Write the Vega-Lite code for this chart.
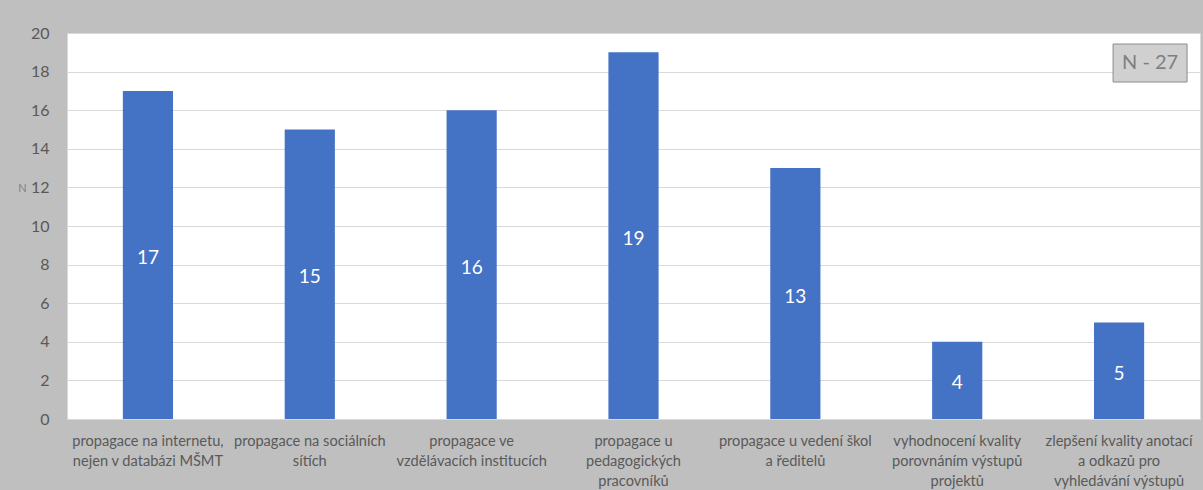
{
  "$schema": "https://vega.github.io/schema/vega-lite/v6.json",
  "autosize": {"type": "none"},
  "width": 1133,
  "height": 386,
  "padding": {"left": 67, "top": 33, "right": 3, "bottom": 71},
  "background": "#bfbfbf",
  "config": {
    "font": "Lato",
    "view": {"fill": "#ffffff", "stroke": "#d9d9d9", "strokeWidth": 1},
    "axisY": {
      "tickCount": 10,
      "labelOverlap": false,
      "titleAngle": 0,
      "titleAlign": "center",
      "titleBaseline": "middle",
      "titleX": -45,
      "titleY": 155,
      "titleFontSize": 11,
      "titleFontWeight": "normal",
      "titleColor": "#7f7f7f",
      "labelFontSize": 16,
      "labelColor": "#595959",
      "labelPadding": 18,
      "ticks": false,
      "tickSize": 0,
      "domain": false,
      "gridColor": "#d9d9d9",
      "gridWidth": 1
    }
  },
  "datasets": {
    "aktivity": [
      {"aktivita": "propagace na internetu,|nejen v databázi MŠMT", "N": 17},
      {"aktivita": "propagace na sociálních|sítích", "N": 15},
      {"aktivita": "propagace ve|vzdělávacích institucích", "N": 16},
      {"aktivita": "propagace u|pedagogických|pracovníků", "N": 19},
      {"aktivita": "propagace u vedení škol|a ředitelů", "N": 13},
      {"aktivita": "vyhodnocení kvality|porovnáním výstupů|projektů", "N": 4},
      {"aktivita": "zlepšení kvality anotací|a odkazů pro|vyhledávání výstupů", "N": 5}
    ],
    "poznamka": [
      {"aktivita": "zlepšení kvality anotací|a odkazů pro|vyhledávání výstupů", "text": "N - 27", "dolni": 17.46, "horni": 19.43, "stred": 18.44}
    ]
  },
  "encoding": {
    "x": {
      "field": "aktivita",
      "type": "nominal",
      "sort": null,
      "scale": {"paddingInner": 0.69, "paddingOuter": 0.345},
      "axis": {
        "title": null,
        "labelAngle": 0,
        "labelExpr": "split(datum.value, '|')",
        "labelFontSize": 14.6,
        "labelColor": "#595959",
        "labelLineHeight": 20,
        "labelPadding": 14,
        "labelBaseline": "top",
        "ticks": false,
        "domain": false,
        "labelLimit": 0
      }
    }
  },
  "layer": [
    {
      "data": {"name": "aktivity"},
      "mark": {"type": "bar", "color": "#4472c4"},
      "encoding": {
        "y": {
          "field": "N",
          "type": "quantitative",
          "title": "N",
          "scale": {"domain": [0, 20], "nice": false}
        }
      }
    },
    {
      "data": {"name": "aktivity"},
      "transform": [{"calculate": "datum.N / 2", "as": "polovina"}],
      "mark": {"type": "text", "color": "#ffffff", "fontSize": 19, "baseline": "middle", "dy": 3},
      "encoding": {
        "y": {"field": "polovina", "type": "quantitative", "title": "N"},
        "text": {"field": "N", "type": "quantitative"}
      }
    },
    {
      "data": {"name": "poznamka"},
      "mark": {"type": "bar", "width": 74, "xOffset": 31, "fill": "#d0d0d0", "stroke": "#8c8c8c", "strokeWidth": 1},
      "encoding": {
        "y": {"field": "dolni", "type": "quantitative", "title": "N"},
        "y2": {"field": "horni"}
      }
    },
    {
      "data": {"name": "poznamka"},
      "mark": {"type": "text", "xOffset": 31, "fontSize": 20, "color": "#7f7f7f", "baseline": "middle"},
      "encoding": {
        "y": {"field": "stred", "type": "quantitative", "title": "N"},
        "text": {"field": "text"}
      }
    }
  ]
}
